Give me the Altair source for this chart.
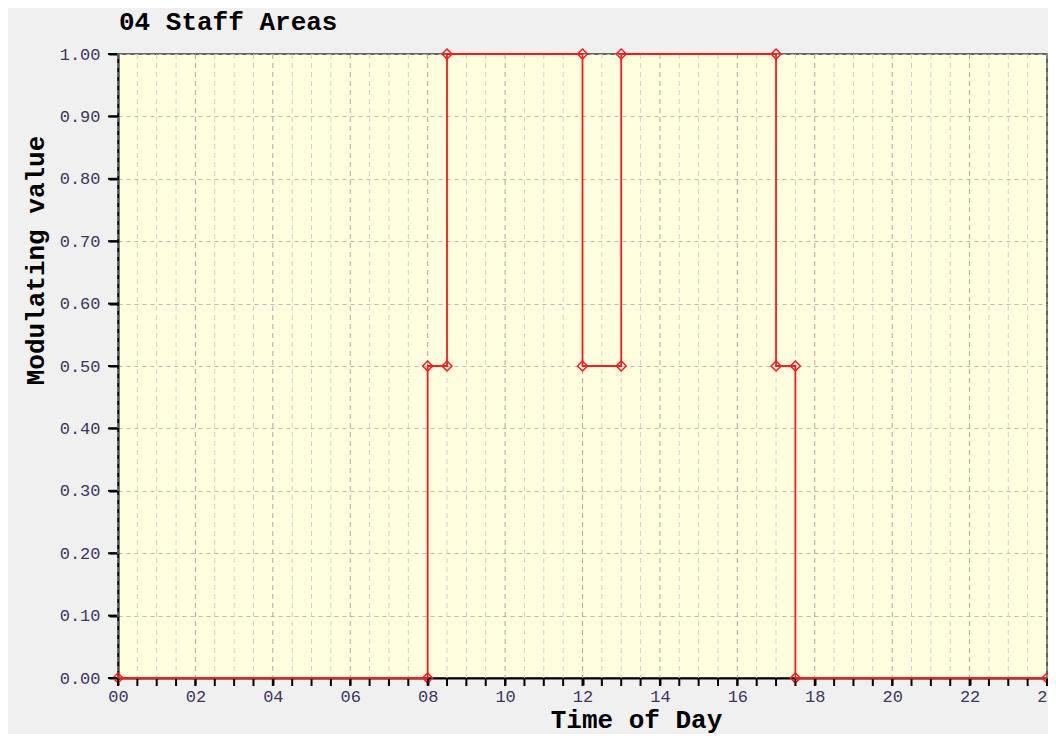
import altair as alt
import pandas as pd

# Data
times = [0, 8, 8, 8.5, 8.5, 12, 12, 13, 13, 17, 17, 17.5, 17.5, 24]
values = [0, 0, 0.5, 0.5, 1, 1, 0.5, 0.5, 1, 1, 0.5, 0.5, 0, 0]
x_ticks = [i * 0.5 for i in range(49)]
y_ticks = [i / 10 for i in range(11)]

df = pd.DataFrame({"t": times, "v": values, "i": list(range(len(times)))})
xt = pd.DataFrame({"t": x_ticks, "major": [t % 2 == 0 for t in x_ticks]})
yt = pd.DataFrame({"v": y_ticks})

FONT = "Liberation Mono"
LABEL_COLOR = "#3c3560"
W, H = 929, 624

x_scale = alt.Scale(domain=[0, 24], nice=False, zero=False)
y_scale = alt.Scale(domain=[0, 1], nice=False, zero=False)

x_enc = alt.X(
    "t:Q",
    scale=x_scale,
    axis=alt.Axis(
        title="Time of Day",
        values=x_ticks,
        labelExpr="datum.value % 2 == 0 ? (datum.value < 10 ? '0' + datum.value : '' + datum.value) : ''",
        labelFont=FONT,
        labelFontSize=17,
        labelColor=LABEL_COLOR,
        labelPadding=3,
        labelFlush=False,
        labelOverlap=False,
        ticks=True,
        tickSize=7,
        tickColor="#000000",
        tickWidth=2,
        domainColor="#000000",
        domainWidth=2,
        grid=False,
        titleFont=FONT,
        titleFontSize=26,
        titleFontWeight="bold",
        titleColor="#000000",
        titleX=518,
        titleY=41,
        titleAlign="center",
        titleBaseline="middle",
    ),
)

y_enc = alt.Y(
    "v:Q",
    scale=y_scale,
    axis=alt.Axis(
        title="Modulating value",
        values=y_ticks,
        format=".2f",
        labelFont=FONT,
        labelFontSize=17,
        labelColor=LABEL_COLOR,
        labelPadding=9,
        labelFlush=False,
        labelOverlap=False,
        ticks=True,
        tickSize=9,
        tickColor="#000000",
        tickWidth=2,
        domainColor="#000000",
        domainWidth=2,
        grid=True,
        gridColor="#b8b8b8",
        gridDash=[4, 4],
        gridWidth=1,
        titleFont=FONT,
        titleFontSize=26,
        titleFontWeight="bold",
        titleColor="#000000",
        titleAngle=-90,
        titleX=-83,
        titleY=206,
        titleAlign="center",
        titleBaseline="middle",
    ),
)

# vertical dashed grid (darker at labelled even hours)
vgrid = alt.Chart(xt).mark_rule(strokeDash=[5, 4], strokeWidth=1).encode(
    x=x_enc,
    y=alt.value(0),
    y2=alt.value(H),
    color=alt.condition("datum.major", alt.value("#a8a8a8"), alt.value("#d0d0d0")),
)

# x tick marks below the axis
xtick_marks = alt.Chart(xt).mark_rule(color="#000000", strokeWidth=2, clip=False).encode(
    x=alt.X("t:Q", scale=x_scale),
    y=alt.value(H + 1),
    y2=alt.value(H + 8),
)

# y tick marks left of the axis
ytick_marks = alt.Chart(yt).mark_rule(color="#000000", strokeWidth=2, clip=False).encode(
    y=y_enc,
    x=alt.value(-10),
    x2=alt.value(-1),
)

line = alt.Chart(df).mark_line(color="#ff1a1a", strokeWidth=1.8).encode(
    x=x_enc, y=y_enc, order="i:Q"
)
pts = alt.Chart(df).mark_point(
    shape="diamond", filled=False, color="#ff1a1a", size=100, strokeWidth=1.5, opacity=1
).encode(x=x_enc, y=y_enc)

chart = (
    alt.layer(vgrid, line, pts, xtick_marks, ytick_marks)
    .properties(
        width=W,
        height=H,
        title=alt.TitleParams(
            "04 Staff Areas",
            anchor="start",
            frame="group",
            font=FONT,
            fontSize=26,
            fontWeight="bold",
            color="#000000",
            baseline="middle",
            offset=10,
            dx=1,
            dy=13,
        ),
        autosize=alt.AutoSizeParams(type="none"),
        padding={"left": 110, "top": 46, "right": 1, "bottom": 56},
        background="#f0f0f0",
    )
    .configure_view(fill="#ffffe0", stroke="#333333", strokeWidth=1.5)
)

chart.save("out.html", embed_options={"renderer": "svg", "actions": False})
